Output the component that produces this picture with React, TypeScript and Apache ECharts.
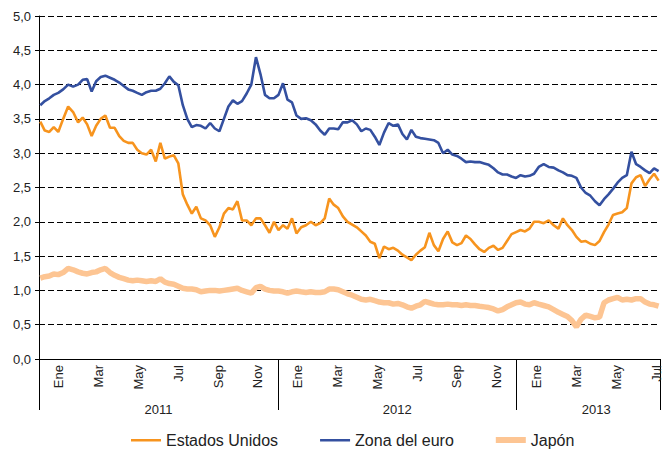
import React, { useEffect, useRef } from "react";
import * as echarts from "echarts";

// Weekly observations, first week starting 2011-01-03
const FIRST_WEEK = { year: 2011, month: 0, day: 3 };

const estadosUnidos = [
  3.46, 3.33, 3.31, 3.38, 3.31, 3.50, 3.68, 3.60, 3.45, 3.52,
  3.42, 3.25, 3.40, 3.50, 3.55, 3.37, 3.37, 3.25, 3.18, 3.15,
  3.15, 3.05, 3.00, 2.98, 3.05, 2.88, 3.15, 2.92, 2.95, 2.97,
  2.85, 2.40, 2.25, 2.12, 2.22, 2.05, 2.02, 1.95, 1.78, 1.92,
  2.12, 2.20, 2.18, 2.30, 2.02, 2.02, 1.95, 2.05, 2.05, 1.95,
  1.84, 2.00, 1.88, 1.95, 1.90, 2.05, 1.83, 1.92, 1.95, 2.00,
  1.95, 1.98, 2.05, 2.34, 2.25, 2.20, 2.08, 2.00, 1.96, 1.92,
  1.86, 1.80, 1.71, 1.68, 1.47, 1.64, 1.60, 1.62, 1.58, 1.52,
  1.48, 1.44, 1.52, 1.58, 1.63, 1.84, 1.66, 1.57, 1.75, 1.86,
  1.70, 1.66, 1.69, 1.80, 1.75, 1.67, 1.60, 1.56, 1.62, 1.65,
  1.59, 1.62, 1.72, 1.82, 1.85, 1.88, 1.86, 1.90, 2.00, 2.00,
  1.98, 2.02, 1.95, 1.90, 2.05, 1.95, 1.88, 1.78, 1.71, 1.72,
  1.68, 1.66, 1.72, 1.85, 1.96, 2.10, 2.12, 2.14, 2.20, 2.56,
  2.65, 2.68, 2.52, 2.62, 2.70, 2.60,
];

const zonaEuro = [
  3.70, 3.76, 3.80, 3.85, 3.88, 3.93, 4.00, 3.97, 4.00, 4.07,
  4.08, 3.90, 4.05, 4.11, 4.13, 4.10, 4.07, 4.03, 3.98, 3.93,
  3.91, 3.88, 3.85, 3.89, 3.91, 3.91, 3.94, 4.02, 4.12, 4.04,
  3.99, 3.70, 3.50, 3.38, 3.41, 3.40, 3.36, 3.44, 3.36, 3.32,
  3.50, 3.68, 3.77, 3.72, 3.76, 3.87, 4.00, 4.40, 4.15, 3.85,
  3.80, 3.80, 3.85, 4.02, 3.78, 3.74, 3.55, 3.50, 3.51, 3.48,
  3.42, 3.33, 3.27, 3.36, 3.36, 3.35, 3.45, 3.45, 3.48, 3.42,
  3.32, 3.36, 3.34, 3.24, 3.12, 3.30, 3.44, 3.40, 3.42, 3.28,
  3.20, 3.34, 3.24, 3.22, 3.21, 3.20, 3.19, 3.15, 3.00, 3.05,
  2.98, 2.96, 2.92, 2.87, 2.88, 2.87, 2.87, 2.85, 2.83, 2.78,
  2.72, 2.69, 2.69, 2.66, 2.64, 2.68, 2.66, 2.67, 2.70, 2.80,
  2.84, 2.80, 2.79, 2.75, 2.72, 2.68, 2.67, 2.64, 2.50, 2.42,
  2.38, 2.30, 2.24, 2.33, 2.40, 2.48, 2.57, 2.64, 2.68, 3.02,
  2.84, 2.80, 2.75, 2.71, 2.78, 2.74,
];

const japon = [
  1.18, 1.20, 1.21, 1.24, 1.23, 1.26, 1.32, 1.30, 1.27, 1.25,
  1.24, 1.26, 1.27, 1.30, 1.32, 1.26, 1.22, 1.19, 1.17, 1.15,
  1.14, 1.15, 1.14, 1.13, 1.14, 1.13, 1.17, 1.12, 1.10, 1.09,
  1.06, 1.03, 1.02, 1.02, 1.01, 0.98, 0.99, 1.00, 1.00, 0.99,
  1.00, 1.01, 1.02, 1.03, 1.00, 0.98, 0.96, 1.04, 1.06, 1.02,
  1.00, 0.99, 0.99, 0.98, 0.96, 0.98, 0.99, 0.98, 0.97, 0.98,
  0.97, 0.97, 0.98, 1.02, 1.02, 1.01, 0.98, 0.95, 0.93, 0.90,
  0.87, 0.86, 0.87, 0.85, 0.83, 0.82, 0.82, 0.80, 0.81, 0.79,
  0.76, 0.74, 0.77, 0.79, 0.84, 0.82, 0.80, 0.79, 0.79, 0.80,
  0.79, 0.79, 0.78, 0.79, 0.78, 0.78, 0.77, 0.76, 0.75, 0.73,
  0.70, 0.72, 0.76, 0.79, 0.82, 0.83, 0.80, 0.79, 0.82, 0.80,
  0.78, 0.76, 0.72, 0.68, 0.65, 0.62, 0.56, 0.47, 0.58, 0.64,
  0.62, 0.60, 0.61, 0.82, 0.86, 0.88, 0.90, 0.86, 0.87, 0.86,
  0.88, 0.88, 0.83, 0.80, 0.79, 0.77,
];

const SERIES_NAMES = ["Estados Unidos", "Zona del euro", "Japón"];
const MONTH_LABELS = ["Ene", "Feb", "Mar", "Abr", "May", "Jun", "Jul", "Ago", "Sep", "Oct", "Nov", "Dic"];
const YEAR_LABELS = ["2011", "2012", "2013"];
const YEAR_LABEL_AT = [6, 18, 28]; // months since Jan 2011
const X_MAX_MONTHS = 31.2; // axis ends early July 2013

const COLORS = { us: "#F7941E", euro: "#3450A0", jp: "#FDC593" };

// position in months since 1 Jan 2011 for week i
function weekPos(i: number): number {
  const d = new Date(Date.UTC(FIRST_WEEK.year, FIRST_WEEK.month, FIRST_WEEK.day + 7 * i));
  const y = d.getUTCFullYear();
  const m = d.getUTCMonth();
  const day = d.getUTCDate();
  const dim = new Date(Date.UTC(y, m + 1, 0)).getUTCDate();
  return (y - 2011) * 12 + m + (day - 1) / dim;
}

const FONT = "'Liberation Sans', Arial, sans-serif";

// legend line icons with invisible corner points so the bar keeps its thickness
const thinIcon = "path://M0,0L0.01,0L0,0.01Z M0,6L30,6L30,8.5L0,8.5Z M30,14L29.99,14L30,13.99Z";
const thickIcon = "path://M0,0L0.01,0L0,0.01Z M0,4L30,4L30,10L0,10Z M30,14L29.99,14L30,13.99Z";

export default function App() {
  const ref = useRef<HTMLDivElement>(null);
  useEffect(() => {
    if (!ref.current) return;
    const chart = echarts.init(ref.current, undefined, { renderer: "svg" });
    const toPts = (arr: number[]) => arr.map((v, i) => [weekPos(i), v]);
    const baseX = {
      type: "value" as const,
      min: 0,
      max: X_MAX_MONTHS,
      position: "bottom" as const,
      splitLine: { show: false },
    };
    chart.setOption({
      animation: false,
      textStyle: { fontFamily: FONT },
      grid: { left: 39, right: 0, top: 16, bottom: 93, containLabel: false },
      legend: {
        left: 126,
        top: 427,
        itemWidth: 30,
        itemHeight: 14,
        itemGap: 42,
        data: [
          { name: SERIES_NAMES[0], icon: thinIcon },
          { name: SERIES_NAMES[1], icon: thinIcon },
          { name: SERIES_NAMES[2], icon: thickIcon },
        ],
        textStyle: { fontSize: 16, color: "#222", fontFamily: FONT },
      },
      xAxis: [
        {
          ...baseX,
          interval: 1,
          axisLine: { show: true, lineStyle: { color: "#000", width: 1 } },
          axisTick: { show: false },
          axisLabel: { show: false },
        },
        {
          ...baseX,
          interval: 1,
          axisLine: { show: false },
          axisTick: { show: false },
          axisLabel: {
            rotate: 90,
            margin: 6,
            fontSize: 13,
            color: "#222",
            fontFamily: FONT,
            formatter: (v: number) => {
              if (Math.abs(v - Math.round(v)) > 1e-6) return "";
              const r = Math.round(v);
              if (r % 2 !== 1) return "";
              return MONTH_LABELS[(r - 1) % 12];
            },
          },
        },
        {
          ...baseX,
          interval: 12,
          axisLine: { show: false },
          axisTick: { show: true, length: 51, lineStyle: { color: "#000", width: 1 } },
          axisLabel: { show: false },
        },
        {
          ...baseX,
          interval: 2,
          axisLine: { show: false },
          axisTick: { show: false },
          axisLabel: {
            margin: 44,
            fontSize: 13,
            color: "#222",
            fontFamily: FONT,
            formatter: (v: number) => {
              const idx = YEAR_LABEL_AT.findIndex((p) => Math.abs(p - v) < 1e-6);
              return idx >= 0 ? YEAR_LABELS[idx] : "";
            },
          },
        },
      ],
      yAxis: {
        type: "value",
        min: 0,
        max: 5,
        interval: 0.5,
        axisLine: { show: true, lineStyle: { color: "#000", width: 1 } },
        axisTick: { show: true, length: 4, lineStyle: { color: "#000" } },
        axisLabel: {
          margin: 8,
          fontSize: 13,
          color: "#222",
          fontFamily: FONT,
          formatter: (v: number) => v.toFixed(1).replace(".", ","),
        },
        splitLine: { show: true, lineStyle: { color: "#000", type: [6, 3], width: 1 } },
      },
      series: [
        {
          name: SERIES_NAMES[2],
          type: "line",
          xAxisIndex: 0,
          data: toPts(japon),
          showSymbol: false,
          symbol: "none",
          lineStyle: { color: COLORS.jp, width: 5.5 },
          itemStyle: { color: COLORS.jp },
          z: 2,
        },
        {
          name: SERIES_NAMES[0],
          type: "line",
          xAxisIndex: 0,
          data: toPts(estadosUnidos),
          showSymbol: false,
          symbol: "none",
          lineStyle: { color: COLORS.us, width: 2.6 },
          itemStyle: { color: COLORS.us },
          z: 3,
        },
        {
          name: SERIES_NAMES[1],
          type: "line",
          xAxisIndex: 0,
          data: toPts(zonaEuro),
          showSymbol: false,
          symbol: "none",
          lineStyle: { color: COLORS.euro, width: 2.6 },
          itemStyle: { color: COLORS.euro },
          z: 4,
        },
      ],
    });
    return () => chart.dispose();
  }, []);
  return (
    <div
      ref={ref}
      style={{ position: "fixed", left: 0, top: 0, width: 663, height: 452, background: "#fff" }}
    />
  );
}
